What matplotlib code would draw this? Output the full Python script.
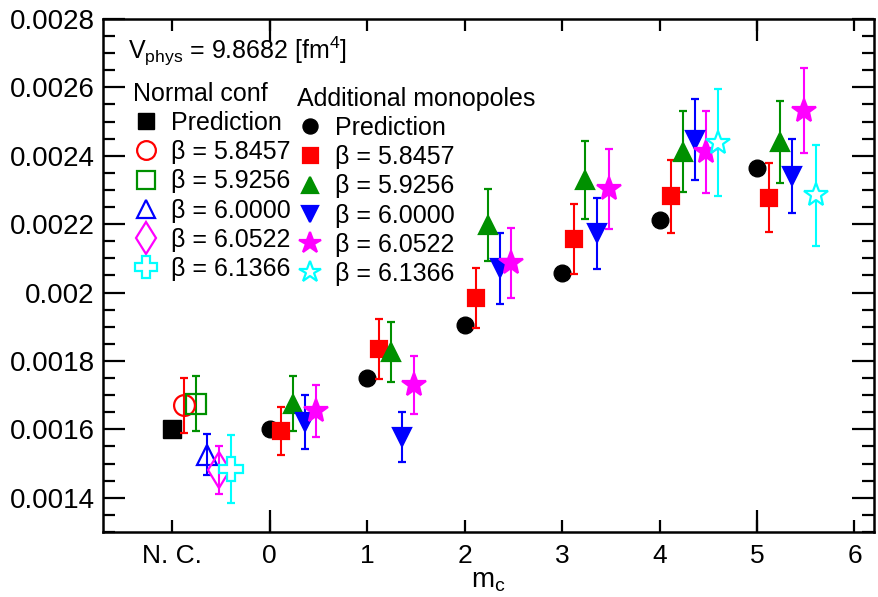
import numpy as np
import matplotlib
matplotlib.use("Agg")
from matplotlib import pyplot as plt
from matplotlib.ticker import FixedLocator, MultipleLocator, FuncFormatter

plt.rcParams['font.family'] = ['Liberation Sans', 'DejaVu Sans']
plt.rcParams['mathtext.fontset'] = 'custom'
plt.rcParams['mathtext.rm'] = 'Liberation Sans'
plt.rcParams['mathtext.it'] = 'Liberation Sans'

# ---- data ----
betas = ["5.8457", "5.9256", "6.0000", "6.0522", "6.1366"]

# normal configurations (plotted at "N. C.")
nc_pred = 0.0016
nc_vals = [0.00167, 0.001675, 0.001526, 0.001482, 0.001485]
nc_errs = [0.00008, 0.00008, 0.00006, 0.00007, 0.0001]

# additional monopoles, vs m_c
mc = [0, 1, 2, 3, 4, 5]
am_pred = [0.0016, 0.00175, 0.001905, 0.002057, 0.002211, 0.002365]
am_mc = [mc, mc, mc, mc, [4, 5]]
am_vals = [
    [0.001596, 0.001835, 0.001984, 0.002156, 0.002281, 0.002278],
    [0.001675, 0.001826, 0.002197, 0.002328, 0.002412, 0.002441],
    [0.001622, 0.001578, 0.002071, 0.002173, 0.002447, 0.002342],
    [0.001654, 0.00173, 0.002086, 0.002304, 0.00241, 0.002532],
    [0.002438, 0.002284],
]
am_errs = [
    [0.00007, 0.000088, 0.000089, 0.000102, 0.000106, 0.0001],
    [0.00008, 0.000088, 0.000105, 0.000114, 0.000118, 0.00012],
    [0.00008, 0.000074, 0.000104, 0.000103, 0.000118, 0.000108],
    [0.000076, 0.000085, 0.000103, 0.000117, 0.00012, 0.000125],
    [0.000156, 0.000147],
]

xtick_pos = [-1, 0, 1, 2, 3, 4, 5, 6]
xtick_labels = ["N. C.", "0", "1", "2", "3", "4", "5", "6"]

# ---- style ----
colors = ["#ff0000", "#009000", "#0000ff", "#ff00ff", "#00ffff"]
nc_markers = ["o", "s", "^", "d", "P"]
nc_sizes = [15, 14, 15, 18, 17]
nc_faces = ["none", "none", "none", "none", "white"]
am_markers = ["s", "^", "v", "*", "*"]
am_sizes = [12, 13, 13, 18, 18]
am_faces = ["#ff0000", "#009000", "#0000ff", "#ff00ff", "white"]
step = 0.12
nc_x = -1

fig = plt.figure(figsize=(8.79, 5.97), dpi=100)
ax = fig.add_axes([0.1172, 0.1089, 0.8771, 0.8593])

eb_kw = dict(elinewidth=1.5, capsize=2.7, capthick=1.5, linestyle="none")

labels = ["Prediction"] + ["\u03b2 = " + b for b in betas]

nc_handles = []
h, = ax.plot([nc_x], [nc_pred], "s", color="black", ms=13)
nc_handles.append(h)
for i in range(5):
    c = ax.errorbar([nc_x + step * (i + 1)], [nc_vals[i]], yerr=[nc_errs[i]],
                    marker=nc_markers[i], ms=nc_sizes[i], mfc=nc_faces[i],
                    mec=colors[i], mew=1.6, color=colors[i], **eb_kw)
    nc_handles.append(c[0])

am_handles = []
h, = ax.plot(mc, am_pred, "o", color="black", ms=12)
am_handles.append(h)
for i in range(5):
    xs = np.array(am_mc[i]) + step * (i + 1)
    c = ax.errorbar(xs, am_vals[i], yerr=am_errs[i],
                    marker=am_markers[i], ms=am_sizes[i], mfc=am_faces[i],
                    mec=colors[i], mew=1.6, color=colors[i], **eb_kw)
    am_handles.append(c[0])

ax.set_xlim(-1.71, 6.2)
ax.set_ylim(0.0013, 0.0028)

ax.xaxis.remove_overlapping_locs = False
ax.xaxis.set_major_locator(FixedLocator(xtick_pos))
ax.set_xticklabels(xtick_labels)
ax.xaxis.set_minor_locator(FixedLocator([0, 5]))
ax.yaxis.set_major_locator(MultipleLocator(0.0002))
ax.yaxis.set_minor_locator(MultipleLocator(0.00005))
ax.yaxis.set_major_formatter(FuncFormatter(lambda v, p: f"{v:g}"))

ax.tick_params(which="both", direction="in", top=True, right=True, width=1.6)
ax.tick_params(axis="x", which="major", length=8.5, labelsize=19, pad=9)
ax.tick_params(axis="x", which="minor", length=16)
ax.tick_params(axis="y", which="major", length=16, labelsize=20, pad=6)
ax.tick_params(axis="y", which="minor", length=8.5)
for s in ax.spines.values():
    s.set_linewidth(1.8)

ax.set_xlabel(r"m$_\mathregular{c}$", fontsize=20, labelpad=0)

ax.text(0.032, 0.936, r"V$_\mathregular{phys}$ = 9.8682 [fm$^\mathregular{4}$]",
        transform=ax.transAxes, fontsize=18, va="center", ha="left")

leg_kw = dict(frameon=False, fontsize=18, title_fontsize=18, loc="upper left",
              handlelength=1.0, handletextpad=0.5, labelspacing=0.21,
              borderpad=0, borderaxespad=0, alignment="left", markerscale=0.9)
leg1 = ax.legend(nc_handles, labels, title="Normal conf",
                 bbox_to_anchor=(0.039, 0.878), **leg_kw)
ax.add_artist(leg1)
leg2 = ax.legend(am_handles, labels, title="Additional monopoles",
                 bbox_to_anchor=(0.252, 0.868), **leg_kw)

fig.savefig("out.png", dpi=100)
